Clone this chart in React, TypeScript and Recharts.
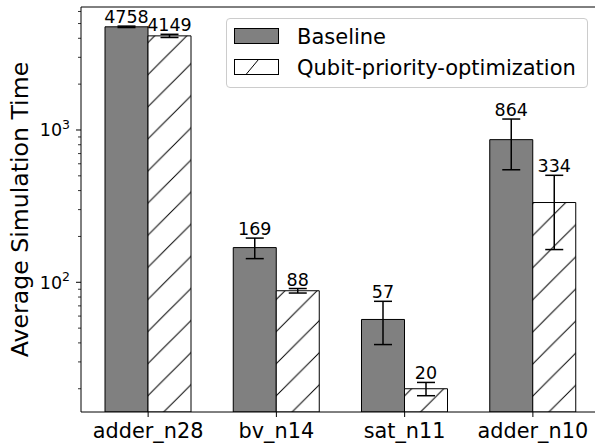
import { BarChart, Bar, XAxis, YAxis, ErrorBar, LabelList, Label, Legend, ReferenceLine } from 'recharts';

const categories = ['adder_n28', 'bv_n14', 'sat_n11', 'adder_n10'];
const baseline = [4758, 169, 57, 864];
const baselineErr = [50, 26, 18, 316];
const optimized = [4149, 88, 20, 334];
const optimizedErr = [100, 3, 2, 170];

const majorTicks = [100, 1000];
const minorTicks = [20, 30, 40, 50, 60, 70, 80, 90, 200, 300, 400, 500, 600, 700, 800, 900, 2000, 3000, 4000, 5000, 6000];

const Y_MIN = 14.07;
const Y_MAX = 6420;
const PLOT_TOP = 7;
const PLOT_H = 405;
const PX_PER_DECADE = PLOT_H / Math.log10(Y_MAX / Y_MIN);
const FONT = '"DejaVu Sans", sans-serif';
const HATCH = 32.1;

const data = categories.map((name, i) => ({
	name,
	base: baseline[i],
	baseErr: baselineErr[i],
	opt: optimized[i],
	optErr: optimizedErr[i],
}));

const YTick = (props: any) => {
	const { x, y, payload } = props;
	const v = payload.value;
	const major = majorTicks.includes(v);
	return (
		<g>
			<line x1={x - (major ? 5 : 3)} x2={x} y1={y} y2={y} stroke="#000" strokeWidth={major ? 1 : 0.8} />
			{major && (
				<text x={x - 11} y={y + 6.5} textAnchor="end" fontFamily={FONT} fontSize={17.5} fill="#000">
					10
					<tspan dy={-7.7} fontSize={12.5}>
						{Math.round(Math.log10(v))}
					</tspan>
				</text>
			)}
		</g>
	);
};

const valueLabel = (errs: number[]) => (props: any) => {
	const { x, y, width, value, index } = props;
	const up = Math.log10((value + errs[index]) / value) * PX_PER_DECADE;
	return (
		<text x={x + width / 2} y={y - up - 3} textAnchor="middle" fontFamily={FONT} fontSize={17.5} fill="#000">
			{value}
		</text>
	);
};

const LegendBox = () => (
	<div
		style={{
			width: 362,
			height: 70,
			boxSizing: 'border-box',
			border: '1px solid #cccccc',
			borderRadius: 4,
			background: 'rgba(255,255,255,0.8)',
		}}
	>
		<svg width={360} height={68} style={{ display: 'block' }}>
			<rect x={7.5} y={9.5} width={44} height={15} fill="#808080" stroke="#000" strokeWidth={1} />
			<text x={70} y={24.5} fontFamily={FONT} fontSize={21} fill="#000">
				Baseline
			</text>
			<rect x={7.5} y={40.5} width={44} height={15} fill="#fff" stroke="#000" strokeWidth={1} />
			<line x1={19} y1={55.5} x2={31.5} y2={40.5} stroke="#000" strokeWidth={1} />
			<text x={70} y={56} fontFamily={FONT} fontSize={21} fill="#000">
				Qubit-priority-optimization
			</text>
		</svg>
	</div>
);

export default function App() {
	return (
		<div style={{ position: 'fixed', left: 0, top: 0, width: 595, height: 444, overflow: 'hidden', background: '#fff' }}>
			<BarChart
				width={605}
				height={444}
				data={data}
				margin={{ top: PLOT_TOP, right: 5, left: 0, bottom: 0 }}
				barGap={0}
				barSize={43}
			>
				<defs>
					<pattern id="hatch" patternUnits="userSpaceOnUse" width={HATCH} height={HATCH} x={30} y={0}>
						<rect width={HATCH} height={HATCH} fill="#fff" />
						<path
							d={`M0,${HATCH} L${HATCH},0 M-1,1 L1,-1 M${HATCH - 1},${HATCH + 1} L${HATCH + 1},${HATCH - 1}`}
							stroke="#000"
							strokeWidth={1}
						/>
					</pattern>
				</defs>
				<XAxis
					dataKey="name"
					height={32}
					padding={{ left: 3, right: 3 }}
					stroke="#000"
					tickSize={5}
					tickMargin={6}
					tick={{ fontFamily: FONT, fontSize: 20.8, fill: '#000' }}
				/>
				<YAxis
					width={81}
					scale="log"
					type="number"
					domain={[Y_MIN, Y_MAX]}
					allowDataOverflow
					ticks={[...majorTicks, ...minorTicks]}
					interval={0}
					stroke="#000"
					tickLine={false}
					tickSize={0}
					tickMargin={0}
					tick={<YTick />}
				>
					<Label
						content={(p: any) => {
							const vb = p.viewBox;
							const cy = vb.y + vb.height / 2;
							return (
								<text
									x={28}
									y={cy}
									transform={`rotate(-90 28 ${cy})`}
									textAnchor="middle"
									fontFamily={FONT}
									fontSize={23.6}
									fill="#000"
								>
									Average Simulation Time
								</text>
							);
						}}
					/>
				</YAxis>
				<ReferenceLine y={Y_MAX} stroke="#000" strokeWidth={1} ifOverflow="visible" />
				<Legend
					layout="horizontal"
					verticalAlign="middle"
					align="center"
					content={() => <LegendBox />}
					wrapperStyle={{ left: 226, top: 18, width: 362, height: 70 }}
				/>
				<Bar dataKey="base" fill="#808080" stroke="#000" strokeWidth={1} isAnimationActive={false}>
					<ErrorBar dataKey="baseErr" width={9} stroke="#000" strokeWidth={1.5} direction="y" />
					<LabelList dataKey="base" content={valueLabel(baselineErr)} />
				</Bar>
				<Bar dataKey="opt" fill="url(#hatch)" stroke="#000" strokeWidth={1} isAnimationActive={false}>
					<ErrorBar dataKey="optErr" width={9} stroke="#000" strokeWidth={1.5} direction="y" />
					<LabelList dataKey="opt" content={valueLabel(optimizedErr)} />
				</Bar>
			</BarChart>
		</div>
	);
}
